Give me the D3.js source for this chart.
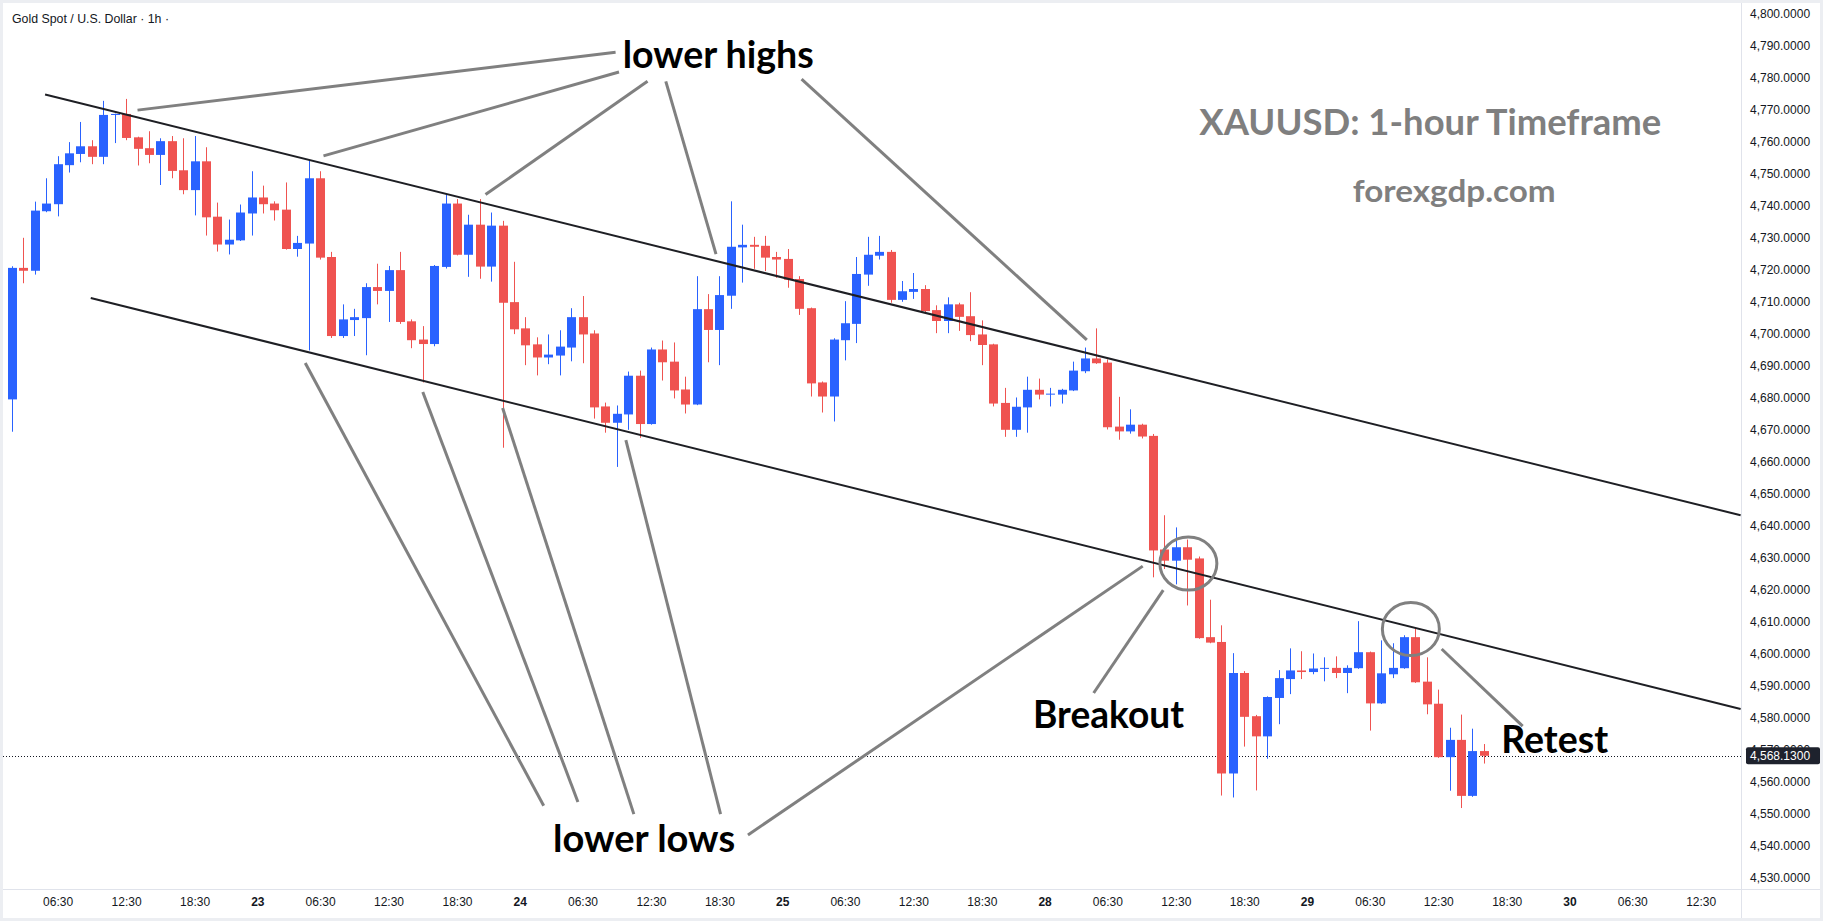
<!DOCTYPE html>
<html>
<head>
<meta charset="utf-8">
<script src="https://cdn.jsdelivr.net/npm/d3@7"></script>
<style>
body { margin: 0; background: #fff; }
svg { display: block; }
</style>
</head>
<body>
<script>
// hourly candles, XAUUSD 1h
let opens = [4679.5,4720.6,4719.7,4738.3,4740.5,4752.7,4756.2,4758.6,4755.3,4768.4,
  4768.7,4761.4,4758.0,4755.9,4760.2,4751.1,4744.9,4753.9,4736.6,4727.9,
  4729.2,4737.6,4742.6,4740.7,4738.8,4726.5,4728.2,4748.6,4724.0,4699.3,
  4704.3,4704.9,4714.6,4713.4,4719.9,4703.9,4698.2,4696.8,4720.9,4740.7,
  4724.7,4734.1,4721.0,4733.8,4709.9,4701.7,4696.7,4692.6,4693.2,4695.7,
  4705.2,4700.1,4677.3,4672.2,4674.8,4686.9,4671.8,4695.1,4691.3,4682.6,
  4677.9,4707.7,4701.2,4711.9,4727.0,4727.8,4727.5,4724.0,4723.4,4717.1,
  4708.0,4684.8,4680.4,4698.0,4703.1,4718.5,4724.4,4725.6,4710.6,4713.1,
  4714.0,4707.4,4704.0,4709.2,4705.5,4699.8,4696.7,4678.4,4670.0,4677.0,
  4682.5,4681.0,4681.0,4682.3,4688.3,4692.3,4691.0,4671.0,4669.5,4671.6,
  4668.1,4632.6,4629.1,4633.3,4629.8,4605.2,4603.7,4562.6,4594.0,4580.5,
  4574.2,4586.2,4592.1,4594.8,4594.3,4595.5,4595.6,4594.0,4595.5,4600.5,
  4584.5,4593.6,4595.5,4605.2,4591.3,4584.4,4567.7,4573.1,4555.6,4569.6];
let highs = [4721.1,4730.0,4741.3,4748.6,4755.5,4759.9,4766.2,4760.5,4772.8,4768.8,
  4773.4,4761.6,4763.3,4761.1,4761.8,4761.1,4761.8,4758.3,4741.0,4735.7,
  4740.4,4750.8,4746.3,4741.4,4747.3,4730.6,4754.2,4750.8,4725.6,4709.2,
  4707.8,4715.8,4721.9,4721.2,4725.6,4704.5,4702.4,4721.5,4743.8,4742.1,
  4737.2,4742.1,4737.9,4735.3,4722.5,4705.2,4698.9,4699.8,4701.1,4708.0,
  4711.8,4701.1,4678.5,4677.6,4688.2,4688.5,4695.7,4697.9,4697.3,4686.6,
  4718.0,4712.4,4718.0,4741.4,4734.1,4730.3,4730.6,4725.6,4726.5,4718.0,
  4708.2,4685.1,4698.6,4710.2,4724.0,4730.3,4730.6,4726.2,4716.5,4719.0,
  4715.2,4708.9,4711.4,4709.7,4713.0,4704.2,4696.9,4683.1,4680.1,4686.6,
  4686.0,4683.1,4682.8,4691.3,4695.7,4701.7,4692.0,4680.3,4676.4,4671.9,
  4668.7,4643.3,4639.5,4635.7,4630.4,4616.9,4608.9,4600.2,4594.6,4580.9,
  4586.7,4594.9,4601.7,4600.8,4600.1,4598.9,4599.2,4596.4,4610.2,4600.7,
  4604.2,4603.3,4605.8,4608.0,4598.9,4588.8,4576.9,4581.0,4576.6,4571.8];
let lows = [4669.4,4715.8,4718.5,4738.0,4736.7,4750.4,4753.6,4753.0,4753.0,4759.6,
  4760.5,4752.6,4753.3,4746.5,4748.6,4743.6,4737.0,4730.7,4725.7,4724.8,
  4729.0,4730.7,4737.6,4735.4,4726.3,4724.1,4694.8,4723.2,4698.7,4698.7,
  4699.3,4693.3,4709.2,4703.7,4703.1,4695.5,4684.8,4696.1,4720.4,4724.5,
  4717.8,4717.2,4716.3,4664.4,4699.9,4690.2,4687.0,4690.5,4687.0,4691.4,
  4690.8,4673.5,4669.1,4658.4,4670.0,4667.5,4671.6,4685.4,4679.8,4675.1,
  4677.7,4691.1,4690.2,4707.8,4716.0,4720.3,4719.6,4717.5,4714.4,4705.9,
  4680.4,4675.4,4672.6,4691.7,4697.1,4715.0,4723.2,4709.7,4710.0,4710.9,
  4706.2,4700.2,4700.2,4700.9,4697.7,4690.2,4677.3,4667.8,4667.8,4669.1,
  4679.5,4677.3,4678.2,4682.1,4687.7,4690.6,4670.1,4666.9,4668.8,4667.3,
  4623.9,4626.5,4621.7,4615.1,4604.7,4603.3,4555.7,4555.1,4571.0,4557.3,
  4567.2,4578.0,4587.4,4592.1,4593.6,4591.4,4592.4,4587.7,4595.3,4576.0,
  4584.3,4592.4,4595.3,4590.9,4581.1,4567.5,4557.2,4551.8,4555.3,4565.7];
let closes = [4720.6,4719.7,4738.5,4740.7,4753.0,4756.4,4758.6,4755.3,4768.4,4768.7,
  4761.2,4757.8,4755.9,4760.2,4750.9,4744.9,4753.9,4736.4,4727.9,4729.4,
  4737.9,4742.6,4740.5,4738.6,4726.5,4728.4,4748.6,4723.8,4699.3,4704.5,
  4705.2,4714.6,4713.4,4719.9,4703.7,4698.0,4696.8,4721.2,4740.7,4724.7,
  4734.1,4721.0,4733.8,4709.7,4701.4,4696.4,4692.6,4693.5,4696.0,4705.2,
  4699.8,4677.0,4672.2,4675.0,4686.9,4671.8,4695.1,4691.1,4682.3,4677.9,
  4707.7,4701.2,4712.1,4727.2,4727.8,4727.2,4723.8,4723.2,4716.9,4707.8,
  4684.5,4680.4,4698.2,4703.3,4718.7,4724.7,4725.6,4710.6,4713.3,4714.0,
  4707.1,4704.0,4709.2,4705.3,4699.6,4696.5,4678.2,4670.0,4677.2,4682.5,
  4681.0,4681.3,4682.5,4688.5,4692.3,4690.8,4670.8,4669.5,4671.6,4667.9,
  4632.3,4629.1,4633.3,4629.4,4604.9,4603.5,4562.6,4594.0,4580.3,4574.2,
  4586.5,4592.4,4594.8,4594.3,4595.4,4595.6,4594.0,4595.6,4600.5,4584.5,
  4593.9,4595.6,4605.2,4591.1,4584.2,4567.7,4573.1,4555.6,4569.6,4568.13];
let lastPrice = 4568.13;

let priceTicks = d3.range(4530, 4801, 10);
let timeLabels = ["06:30","12:30","18:30","23","06:30","12:30","18:30","24","06:30","12:30","18:30","25",
  "06:30","12:30","18:30","28","06:30","12:30","18:30","29","06:30","12:30","18:30","30","06:30","12:30"];
let timeLabelBars = [4,10,16,21.5,27,33,39,44.5,50,56,62,67.5,73,79,85,90.5,96,102,108,113.5,119,125,131,136.5,142,148];
let dayLabels = ["23","24","25","28","29","30"];

// drawings, in [bar, price]
let channelTop = [[2.9, 4774.8], [151.5, 4643.3]];
let channelBottom = [[6.9, 4711.2], [151.5, 4582.75]];
let highPointers = [
  [[52.9, 4788.0], [11.0, 4769.9]],
  [[53.2, 4781.8], [27.3, 4755.6]],
  [[55.7, 4778.9], [41.5, 4743.5]],
  [[57.3, 4778.9], [61.7, 4724.9]],
  [[69.2, 4779.6], [94.2, 4698.1]]
];
let lowPointers = [
  [[46.6, 4552.5], [25.7, 4690.9]],
  [[49.6, 4553.7], [36.0, 4681.8]],
  [[54.5, 4549.9], [43.0, 4676.8]],
  [[62.1, 4549.9], [53.8, 4666.8]],
  [[64.5, 4543.4], [99.1, 4627.4]]
];
let breakoutPointer = [[94.8, 4587.75], [100.9, 4619.9]];
let retestPointer = [[125.3, 4601.5], [132.4, 4577.4]];
let rings = [[103.1, 4628.2], [122.6, 4607.75]];
let notes = [
  {text: "lower highs", bar: 61.9, price: 4783.1, w: 191, size: 38},
  {text: "lower lows", bar: 55.4, price: 4538.1, w: 182, size: 38},
  {text: "Breakout", bar: 96.1, price: 4576.8, w: 151, size: 38},
  {text: "Retest", bar: 135.2, price: 4569.0, w: 107, size: 38}
];
let marks = [
  {text: "XAUUSD: 1-hour Timeframe", bar: 124.3, price: 4762.1, w: 462, size: 36},
  {text: "forexgdp.com", bar: 126.4, price: 4741.2, w: 203, size: 31}
];

const W = 1823, H = 921, plotR = 1741, plotB = 889;

let svg = d3.select("body").append("svg")
  .attr("width", W).attr("height", H)
  .style("font-family", "'Liberation Sans', Arial, sans-serif");

svg.append("rect").attr("width", W).attr("height", H).attr("fill", "#fff");

let x = d3.scaleLinear().domain([0, 150]).range([12, 12 + 11.41 * 150]);
let y = d3.scaleLinear().domain([4530, 4800]).range([877.8, 13.8]);

svg.append("clipPath").attr("id", "plot")
  .append("rect").attr("x", 0).attr("y", 0).attr("width", plotR).attr("height", plotB);

let plot = svg.append("g").attr("clip-path", "url(#plot)");

// last price dotted line
plot.append("line")
  .attr("x1", 0).attr("x2", plotR)
  .attr("y1", Math.round(y(lastPrice)) + 0.5).attr("y2", Math.round(y(lastPrice)) + 0.5)
  .attr("stroke", "#131722").attr("stroke-width", 1).attr("stroke-dasharray", "1,2");

let candles = opens.map((o, i) => ({i: i, o: o, h: highs[i], l: lows[i], c: closes[i]}));
let col = d => d.c >= d.o ? "#2962ff" : "#ef5350";

plot.selectAll(".wick").data(candles).enter().append("line")
  .attr("x1", d => Math.round(x(d.i)) + 0.5)
  .attr("x2", d => Math.round(x(d.i)) + 0.5)
  .attr("y1", d => y(d.h))
  .attr("y2", d => y(d.l))
  .attr("stroke", col).attr("stroke-width", 1);

plot.selectAll(".body").data(candles).enter().append("rect")
  .attr("x", d => Math.round(x(d.i)) - 4)
  .attr("width", 9)
  .attr("y", d => y(Math.max(d.o, d.c)))
  .attr("height", d => Math.max(1, Math.abs(y(d.o) - y(d.c))))
  .attr("fill", col);

// channel
let seg = d3.line().x(d => x(d[0])).y(d => y(d[1]));
[channelTop, channelBottom].forEach(l => {
  plot.append("path").attr("d", seg(l))
    .attr("fill", "none").attr("stroke", "#1e1f24").attr("stroke-width", 2);
});

// pointers
highPointers.concat(lowPointers, [breakoutPointer, retestPointer]).forEach(l => {
  plot.append("path").attr("d", seg(l))
    .attr("fill", "none").attr("stroke", "#808080").attr("stroke-width", 3);
});

plot.selectAll(".ring").data(rings).enter().append("ellipse")
  .attr("cx", d => x(d[0])).attr("cy", d => y(d[1]))
  .attr("rx", 28.5).attr("ry", 26.5)
  .attr("fill", "none").attr("stroke", "#808080").attr("stroke-width", 3);

plot.selectAll(".note").data(notes).enter().append("text")
  .attr("x", d => x(d.bar)).attr("y", d => y(d.price))
  .attr("text-anchor", "middle")
  .attr("textLength", d => d.w).attr("lengthAdjust", "spacingAndGlyphs")
  .style("font-family", "Lato, 'Open Sans', sans-serif")
  .style("font-weight", "bold").style("font-size", d => d.size + "px")
  .attr("fill", "#000")
  .text(d => d.text);

plot.selectAll(".mark").data(marks).enter().append("text")
  .attr("x", d => x(d.bar)).attr("y", d => y(d.price))
  .attr("text-anchor", "middle")
  .attr("textLength", d => d.w).attr("lengthAdjust", "spacingAndGlyphs")
  .style("font-family", "Lato, 'Open Sans', sans-serif")
  .style("font-weight", "bold").style("font-size", d => d.size + "px")
  .attr("fill", "#7f7f7f")
  .text(d => d.text);

// title
svg.append("text").attr("x", 12).attr("y", 23)
  .attr("textLength", 157).attr("lengthAdjust", "spacingAndGlyphs")
  .style("font-size", "13px").attr("fill", "#131722")
  .text("Gold Spot / U.S. Dollar \u00b7 1h \u00b7");

// price axis
let yAxis = svg.append("g").attr("transform", `translate(${plotR},0)`)
  .call(d3.axisRight(y).tickValues(priceTicks).tickSize(0).tickPadding(9).tickFormat(d3.format(",.4f")));
yAxis.select(".domain").remove();
yAxis.selectAll("text").style("font-family", "'Liberation Sans', Arial, sans-serif")
  .style("font-size", "12px").attr("fill", "#131722");

// time axis
let xAxis = svg.append("g").attr("transform", `translate(0,${plotB})`)
  .call(d3.axisBottom(x).tickValues(timeLabelBars).tickSize(0).tickPadding(8)
    .tickFormat((d, i) => timeLabels[i]));
xAxis.select(".domain").remove();
xAxis.selectAll("text").style("font-family", "'Liberation Sans', Arial, sans-serif")
  .style("font-size", "12px").attr("fill", "#131722")
  .style("font-weight", (d, i) => dayLabels.includes(timeLabels[i]) ? "bold" : "normal");

// last price tag, drawn over the 4,570 tick as in the picture
let ly = y(lastPrice);
svg.append("rect").attr("x", 1746).attr("y", ly - 8.5).attr("width", 74).attr("height", 17)
  .attr("rx", 2).attr("fill", "#1e222d");
svg.append("text").attr("x", 1750).attr("y", ly + 4.5)
  .style("font-size", "12px").attr("fill", "#fff")
  .text(d3.format(",.4f")(lastPrice));

// separators and frame
svg.append("line").attr("x1", plotR + 0.5).attr("x2", plotR + 0.5).attr("y1", 0).attr("y2", H)
  .attr("stroke", "#e0e3eb");
svg.append("line").attr("x1", 0).attr("x2", W).attr("y1", plotB + 0.5).attr("y2", plotB + 0.5)
  .attr("stroke", "#e0e3eb");
svg.append("rect").attr("x", 1.5).attr("y", 1.5).attr("width", W - 3).attr("height", H - 3)
  .attr("fill", "none").attr("stroke", "#eceef2").attr("stroke-width", 3);
</script>
</body>
</html>
